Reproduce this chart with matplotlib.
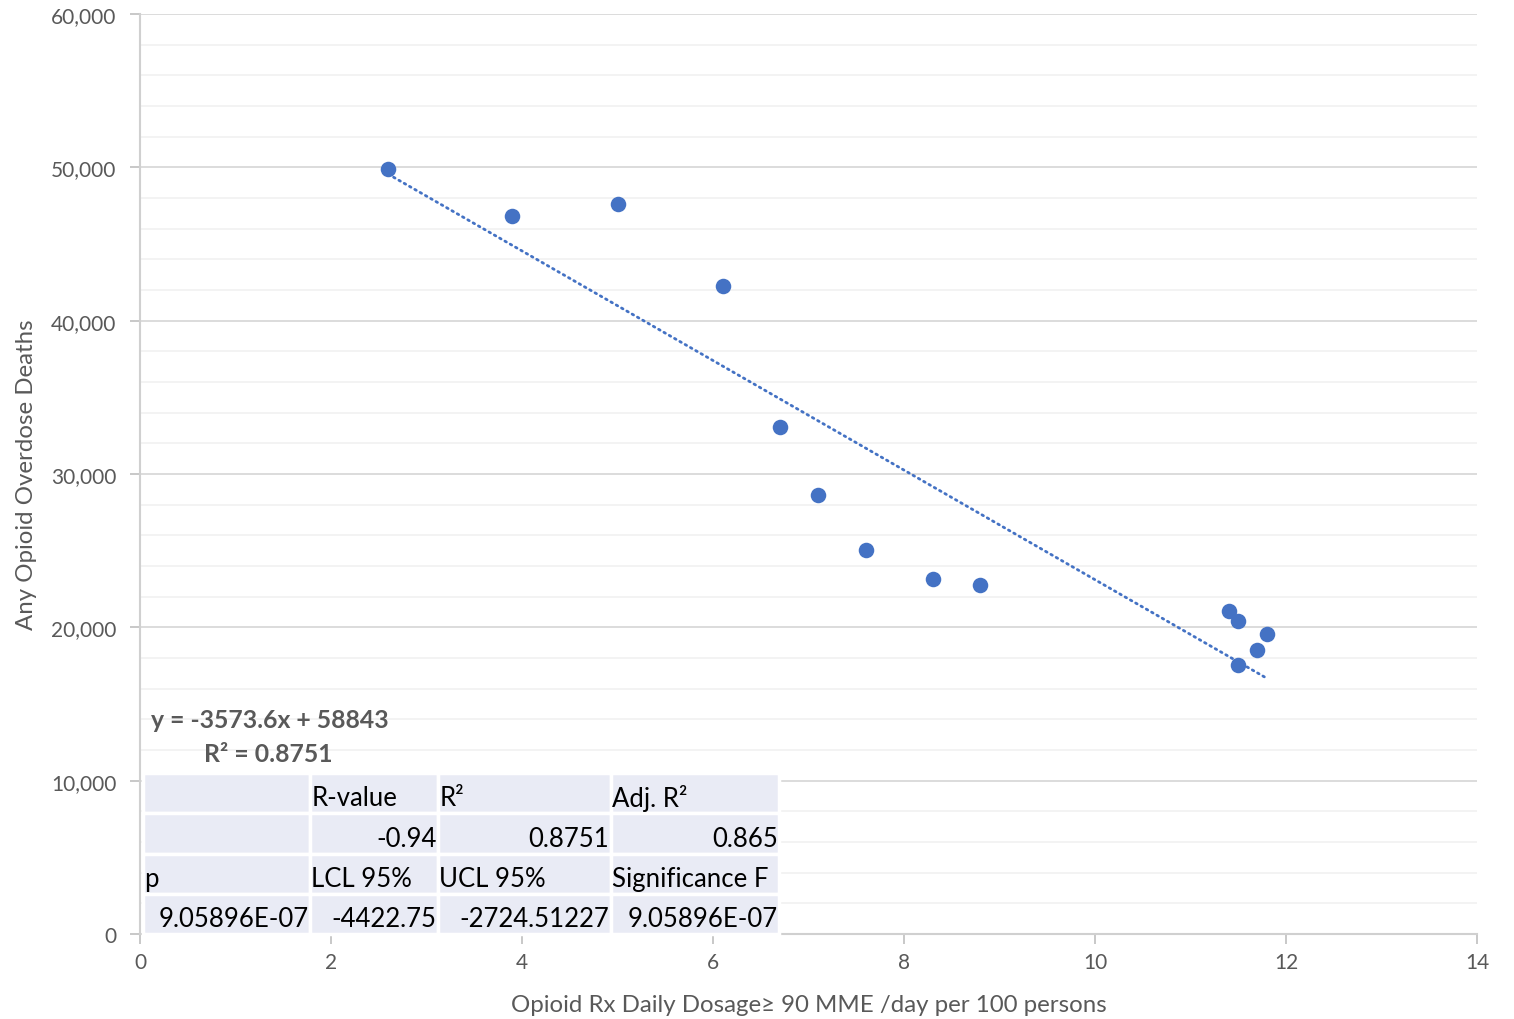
import numpy as np
import matplotlib.pyplot as plt
from matplotlib.patches import Rectangle

plt.rcParams['font.family'] = ['Lato', 'DejaVu Sans']

# data
dosage = [2.6, 3.9, 5.0, 6.1, 6.7, 7.1, 7.6, 8.3, 8.8, 11.4, 11.5, 11.8, 11.7, 11.5]
deaths = [49900, 46850, 47600, 42250, 33050, 28650, 25050, 23150, 22750, 21050, 20400, 19550, 18500, 17550]

slope = -3573.6
intercept = 58843

table_rows = [
    ['', 'R-value', 'R\u00b2', 'Adj. R\u00b2'],
    ['', '-0.94', '0.8751', '0.865'],
    ['p', 'LCL 95%', 'UCL 95%', 'Significance F'],
    ['9.05896E-07', '-4422.75', '-2724.51227', '9.05896E-07'],
]
# alignment of each row (headers left, numbers right)
row_align = ['left', 'right', 'left', 'right']

blue = '#4472C4'
grey_txt = '#595959'

fig = plt.figure(figsize=(15.14, 10.2), dpi=100)
ax = fig.add_axes([140/1514, 85/1020, 1337/1514, 920/1020])

ax.scatter(dosage, deaths, s=125, color=blue, zorder=4, linewidths=0)

xt = np.array([min(dosage), max(dosage)])
ax.plot(xt, slope*xt + intercept, color=blue, lw=2.0, ls=(0, (0.6, 1.6)),
        dash_capstyle='round', zorder=3)

ax.set_xlim(0, 14)
ax.set_ylim(0, 60000)
ax.set_xticks(range(0, 15, 2))
ax.set_yticks(range(0, 60001, 10000))
ax.set_yticks(range(0, 60001, 2000), minor=True)
ax.yaxis.set_major_formatter(plt.FuncFormatter(lambda v, p: f'{int(v):,}'))
ax.grid(axis='y', which='major', color='#D9D9D9', lw=1.3)
ax.grid(axis='y', which='minor', color='#F2F2F2', lw=1.3)
ax.set_axisbelow(True)
ax.tick_params(which='major', length=7, color='#BFBFBF', labelsize=15,
               labelcolor=grey_txt, width=1.2)
ax.tick_params(axis='y', which='minor', length=0)
ax.tick_params(axis='x', pad=6)
ax.tick_params(axis='y', pad=10)
for s in ['top', 'right']:
    ax.spines[s].set_visible(False)
for s in ['left', 'bottom']:
    ax.spines[s].set_color('#D0D0D0')
    ax.spines[s].set_linewidth(1.5)

ax.set_xlabel('Opioid Rx Daily Dosage\u2265 90 MME /day per 100 persons',
              fontsize=17.3, color=grey_txt, labelpad=16)
ax.set_ylabel('Any Opioid Overdose Deaths', fontsize=17.3, color=grey_txt, labelpad=10)

# trendline equation
ax.text(0.008, 0.233, 'y = -3573.6x + 58843', transform=ax.transAxes,
        fontsize=17.8, fontweight='bold', color=grey_txt, va='center')
ax.text(0.048, 0.196, 'R\u00b2 = 0.8751', transform=ax.transAxes,
        fontsize=17.8, fontweight='bold', color=grey_txt, va='center')

# stats table drawn as cells in axes coordinates
col_edges = [0.002, 0.127, 0.223, 0.352, 0.478]
row_edges = [0.175, 0.1315, 0.087, 0.0435, 0.0]
for r, row in enumerate(table_rows):
    y0, y1 = row_edges[r+1], row_edges[r]
    for c, txt in enumerate(row):
        x0, x1 = col_edges[c], col_edges[c+1]
        ax.add_patch(Rectangle((x0, y0), x1-x0, y1-y0, transform=ax.transAxes,
                               facecolor='#E9EBF5', edgecolor='white', lw=2.5,
                               zorder=5, clip_on=False))
        if row_align[r] == 'left':
            tx = x0 + 0.001
        else:
            tx = x1 - 0.001
        ax.text(tx, (y0+y1)/2 - 0.005, txt, transform=ax.transAxes, fontsize=18.5,
                ha=row_align[r], va='center', color='black', zorder=6)

fig.savefig('out.png', dpi=100)
